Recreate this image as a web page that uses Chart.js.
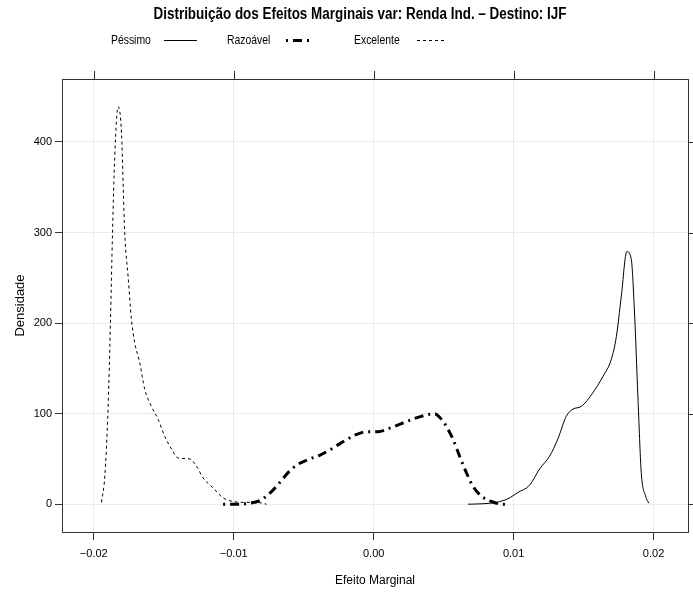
<!DOCTYPE html>
<html>
<head>
<meta charset="utf-8">
<script src="https://cdn.jsdelivr.net/npm/chart.js@4/dist/chart.umd.min.js"></script>
<style>
  html, body { margin: 0; padding: 0; background: #fff; }
  #wrap { width: 693px; height: 595px; }
</style>
</head>
<body>
<div id="wrap"><canvas id="densChart" width="693" height="595"></canvas></div>
<script>
// dados (efeito marginal x densidade)
const pessimoX = [0.00674, 0.00781, 0.00876, 0.00959, 0.01031, 0.01114, 0.01186, 0.01257, 0.01316, 0.01376, 0.01424, 0.01484, 0.01566, 0.01638, 0.01698, 0.01734, 0.01769, 0.01809, 0.01841, 0.01864, 0.01888, 0.01912, 0.01943, 0.01966];
const pessimoY = [0, 0.5, 2, 6, 13, 21, 39, 53, 72, 97, 105, 108, 123, 141, 160, 185, 229, 279, 270, 211, 119, 35, 9, 1];

const razoavelX = [-0.01076, -0.00993, -0.00886, -0.00814, -0.00743, -0.00671, -0.00605, -0.00541, -0.00457, -0.00386, -0.00291, -0.00219, -0.00136, -0.00052, 0.00031, 0.00114, 0.00198, 0.00281, 0.00364, 0.00436, 0.00471, 0.00519, 0.00566, 0.00614, 0.00662, 0.00709, 0.00769, 0.00841, 0.00924, 0.00959];
const razoavelY = [0, 0, 1, 4, 12, 24, 36, 44, 50, 54, 62, 69, 76, 80, 80, 84, 89, 94, 98, 100, 96, 86, 72, 53, 35, 20, 9, 3, 0, 0];

const excelenteX = [-0.01945, -0.01921, -0.01898, -0.01881, -0.01866, -0.0185, -0.01826, -0.01802, -0.01779, -0.01755, -0.01731, -0.01707, -0.01671, -0.01636, -0.01588, -0.01541, -0.01493, -0.01445, -0.01398, -0.01314, -0.01266, -0.01219, -0.01148, -0.01076, -0.01005, -0.00909, -0.00838, -0.00766];
const excelenteY = [2, 31, 105, 200, 300, 384, 439, 410, 300, 252, 204, 178, 156, 127, 108, 94, 75, 61, 51, 50, 42, 29, 18, 7, 3, 2, 2, 0];

const seriesNames = ['Péssimo', 'Razoável', 'Excelente'];
const xTicks = [-0.02, -0.01, 0, 0.01, 0.02];
const xTickLabels = ['\u22120.02', '\u22120.01', '0.00', '0.01', '0.02'];
const yTicks = [0, 100, 200, 300, 400];
const yTickLabels = ['0', '100', '200', '300', '400'];

const chartTitle = 'Distribuição dos Efeitos Marginais var: Renda Ind. \u2013 Destino: IJF';
const FONT = "'Liberation Sans Narrow', 'Liberation Sans', Arial, sans-serif";

const toPoints = (xs, ys) => xs.map((v, i) => ({ x: v, y: ys[i] }));

// texto estreitado (a fonte original e Helvetica Narrow)
function narrowText(ctx, text, x, y, sx) {
  ctx.save();
  ctx.translate(x, y);
  ctx.scale(sx, 1);
  ctx.fillText(text, 0, 0);
  ctx.restore();
}

// titulo, legenda, moldura e marcas do topo/direita
const latticeDecor = {
  id: 'latticeDecor',
  afterDraw(chart) {
    const { ctx, chartArea: a, scales } = chart;
    ctx.save();
    ctx.strokeStyle = '#333';
    ctx.lineWidth = 1;
    ctx.setLineDash([]);
    ctx.strokeRect(a.left + 0.5, a.top + 0.5, a.right - a.left, a.bottom - a.top);
    ctx.beginPath();
    xTicks.forEach(v => {
      const px = Math.round(scales.x.getPixelForValue(v)) + 0.5;
      ctx.moveTo(px, a.top);
      ctx.lineTo(px, a.top - 8);
    });
    yTicks.forEach(v => {
      const py = Math.round(scales.y.getPixelForValue(v)) + 0.5;
      ctx.moveTo(a.right, py);
      ctx.lineTo(a.right + 7, py);
    });
    ctx.stroke();

    ctx.fillStyle = '#000';
    ctx.textBaseline = 'middle';
    ctx.textAlign = 'center';
    ctx.font = 'bold 16px ' + FONT;
    narrowText(ctx, chartTitle, 360, 15, 0.84);

    const legendPos = [[111, 164, 197], [227, 286, 312], [354, 417, 447]];
    ctx.textAlign = 'left';
    ctx.font = '13px ' + FONT;
    chart.data.datasets.forEach((ds, i) => {
      const [tx, l0, l1] = legendPos[i];
      narrowText(ctx, ds.label, tx, 40, 0.8);
      ctx.beginPath();
      ctx.strokeStyle = '#000';
      ctx.lineWidth = ds.borderWidth;
      ctx.setLineDash(ds.borderDash || []);
      ctx.moveTo(l0, 40.5);
      ctx.lineTo(l1, 40.5);
      ctx.stroke();
    });
    ctx.restore();
  }
};

new Chart(document.getElementById('densChart'), {
  type: 'line',
  data: {
    datasets: [
      { label: seriesNames[0], data: toPoints(pessimoX, pessimoY), borderColor: '#000', borderWidth: 1, borderDash: [] },
      { label: seriesNames[1], data: toPoints(razoavelX, razoavelY), borderColor: '#000', borderWidth: 3, borderDash: [2, 5, 9, 5] },
      { label: seriesNames[2], data: toPoints(excelenteX, excelenteY), borderColor: '#000', borderWidth: 1, borderDash: [3, 3] }
    ]
  },
  options: {
    responsive: false,
    animation: false,
    elements: { point: { radius: 0 }, line: { cubicInterpolationMode: 'monotone', fill: false } },
    layout: { padding: { top: 79, right: 5, left: 0, bottom: 0 } },
    plugins: { legend: { display: false }, title: { display: false }, tooltip: { enabled: false } },
    scales: {
      x: {
        type: 'linear',
        min: -0.02227,
        max: 0.02246,
        afterBuildTicks: s => { s.ticks = xTicks.map(v => ({ value: v })); },
        afterFit: s => { s.height = 63; },
        grid: { color: '#ebebeb', tickColor: '#333', tickLength: 8, drawTicks: true },
        border: { display: false },
        ticks: {
          color: '#000', padding: 7, maxRotation: 0,
          font: { family: FONT, size: 11 },
          callback: v => xTickLabels[xTicks.indexOf(v)]
        },
        title: { display: true, text: 'Efeito Marginal', color: '#000', font: { family: FONT, size: 12 }, padding: { top: 0, bottom: 7 } }
      },
      y: {
        type: 'linear',
        min: -30.7,
        max: 469.5,
        afterBuildTicks: s => { s.ticks = yTicks.map(v => ({ value: v })); },
        afterFit: s => { s.width = 62; },
        grid: { color: '#ebebeb', tickColor: '#333', tickLength: 7, drawTicks: true },
        border: { display: false },
        ticks: {
          color: '#000', padding: 3,
          font: { family: FONT, size: 11 },
          callback: v => yTickLabels[yTicks.indexOf(v)]
        },
        title: { display: true, text: 'Densidade', color: '#000', font: { family: FONT, size: 13 }, padding: { top: 13, bottom: 0 } }
      }
    }
  },
  plugins: [latticeDecor]
});
</script>
</body>
</html>
